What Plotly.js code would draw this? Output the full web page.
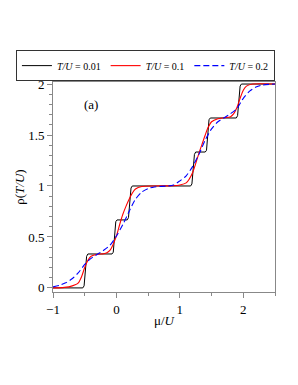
<!DOCTYPE html>
<html>
<head>
<meta charset="utf-8">
<script src="https://cdn.plot.ly/plotly-3.0.1.min.js"></script>
<style>html,body{margin:0;padding:0;background:#fff;}#chart{width:298px;height:385px;}</style>
</head>
<body>
<div id="chart"></div>
<script>
// T/U = 0.01 (near step function)
const muBlack = [-1, -0.53, -0.51, -0.49, -0.47, -0.45, -0.07, -0.05, -0.03, -0.01, 0.01, 0.17, 0.19, 0.21, 0.23, 0.25, 1.17, 1.19, 1.21, 1.23, 1.25, 1.40, 1.42, 1.44, 1.46, 1.48, 1.89, 1.91, 1.93, 1.95, 1.97, 2.5];
const rhoBlack = [0, 0, 0.02, 0.17, 0.31, 0.333, 0.333, 0.35, 0.5, 0.65, 0.667, 0.667, 0.69, 0.83, 0.98, 1, 1, 1.02, 1.167, 1.31, 1.333, 1.333, 1.35, 1.5, 1.65, 1.667, 1.667, 1.69, 1.83, 1.98, 2, 2];
// T/U = 0.1
const muRed = [-1, -0.85, -0.75, -0.65, -0.6, -0.55, -0.5, -0.45, -0.4, -0.3, -0.2, -0.15, -0.1, -0.05, 0, 0.05, 0.1, 0.15, 0.2, 0.25, 0.3, 0.4, 0.6, 0.9, 1.0, 1.1, 1.15, 1.2, 1.25, 1.3, 1.35, 1.4, 1.45, 1.5, 1.6, 1.7, 1.8, 1.85, 1.9, 1.95, 2.0, 2.05, 2.15, 2.5];
const rhoRed = [0, 0.003, 0.01, 0.03, 0.05, 0.11, 0.2, 0.27, 0.31, 0.33, 0.335, 0.345, 0.37, 0.43, 0.51, 0.62, 0.72, 0.8, 0.87, 0.93, 0.97, 0.995, 1.0, 1.003, 1.01, 1.03, 1.07, 1.13, 1.22, 1.32, 1.41, 1.5, 1.58, 1.63, 1.66, 1.67, 1.68, 1.71, 1.77, 1.86, 1.94, 1.98, 2.0, 2.0];
// T/U = 0.2
const muBlue = [-1, -0.9, -0.8, -0.7, -0.6, -0.5, -0.4, -0.3, -0.2, -0.1, 0, 0.1, 0.2, 0.3, 0.4, 0.5, 0.6, 0.8, 0.9, 1.0, 1.1, 1.2, 1.3, 1.4, 1.5, 1.6, 1.7, 1.8, 1.9, 2.0, 2.1, 2.2, 2.3, 2.5];
const rhoBlue = [0.01, 0.025, 0.05, 0.09, 0.15, 0.23, 0.29, 0.33, 0.37, 0.42, 0.51, 0.62, 0.75, 0.87, 0.94, 0.975, 0.99, 1.0, 1.01, 1.05, 1.1, 1.19, 1.31, 1.45, 1.56, 1.63, 1.67, 1.71, 1.76, 1.86, 1.93, 1.97, 1.99, 2.0];
const seriesNames = ['<i>T/U</i> = 0.01', '<i>T/U</i> = 0.1', '<i>T/U</i> = 0.2'];
const xTicks = [-1, 0, 1, 2];
const yTicks = [0, 0.5, 1, 1.5, 2];
const yTickText = ['0', '0.5', '1', '1.5', '2'];

const font = '"Liberation Serif", "Times New Roman", Times, serif';
const traces = [
  {x: muBlack, y: rhoBlack, name: seriesNames[0], mode: 'lines', line: {color: '#000000', width: 1}},
  {x: muRed, y: rhoRed, name: seriesNames[1], mode: 'lines', line: {color: '#ff0000', width: 1.1, shape: 'spline', smoothing: 0.8}},
  {x: muBlue, y: rhoBlue, name: seriesNames[2], mode: 'lines', line: {color: '#0000ff', width: 1.1, dash: '6px,3px', shape: 'spline', smoothing: 0.8}}
];
const axisCommon = {
  showline: true, mirror: true, linecolor: '#888', linewidth: 1,
  ticks: 'outside', ticklen: 5, tickcolor: '#888', tickwidth: 1,
  showgrid: false, zeroline: false,
  tickfont: {family: font, size: 13, color: '#000'}
};
const layout = {
  width: 298, height: 385,
  margin: {l: 53, r: 23, t: 82, b: 93},
  paper_bgcolor: '#fff', plot_bgcolor: '#fff',
  font: {family: font, color: '#000'},
  showlegend: true,
  legend: {
    orientation: 'h', x: -0.167, xanchor: 'left', y: 1.078, yanchor: 'middle',
    bordercolor: '#333', borderwidth: 1, bgcolor: '#fff',
    font: {family: font, size: 10, color: '#000'},
    itemwidth: 30, tracegroupgap: 0
  },
  xaxis: Object.assign({}, axisCommon, {
    range: [-1, 2.5], tickvals: xTicks,
    minor: {dtick: 0.5, ticks: 'outside', ticklen: 3, tickcolor: '#888'},
    title: {text: 'μ/<i>U</i>', font: {family: font, size: 13}, standoff: 0}
  }),
  yaxis: Object.assign({}, axisCommon, {
    range: [-0.04, 2.02], tickvals: yTicks, ticktext: yTickText,
    minor: {dtick: 0.1, ticks: 'outside', ticklen: 3, tickcolor: '#888'},
    title: {text: 'ρ(<i>T/U</i>)', font: {family: font, size: 13}, standoff: 0}
  }),
  annotations: [{x: -0.4, y: 1.8, xref: 'x', yref: 'y', text: '(a)', showarrow: false, font: {family: font, size: 13, color: '#000'}}]
};
Plotly.newPlot('chart', traces, layout, {staticPlot: true, displayModeBar: false});
</script>
</body>
</html>
